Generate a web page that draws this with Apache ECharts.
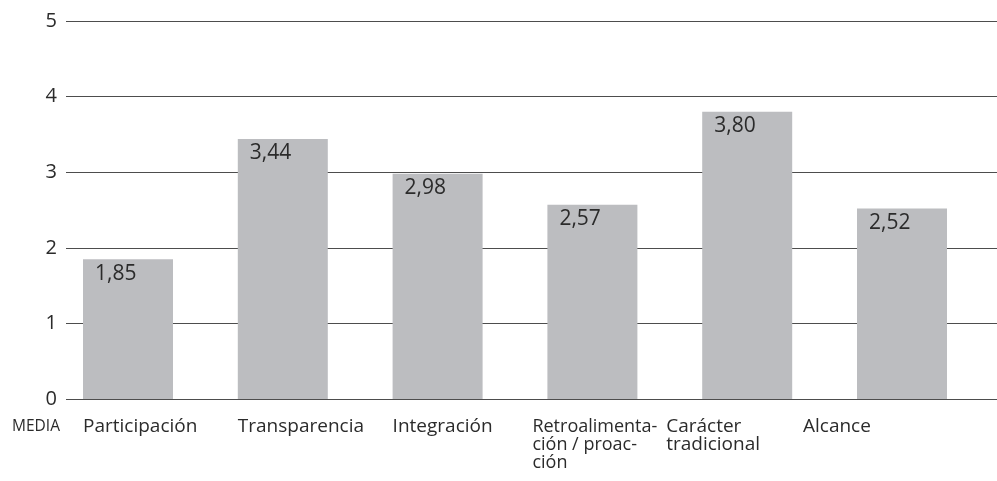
<!DOCTYPE html>
<html>
<head>
<meta charset="utf-8">
<style>
  html, body { margin: 0; padding: 0; background: #fff; }
  #main { width: 997px; height: 481px; }
</style>
<script src="https://cdn.jsdelivr.net/npm/echarts@6/dist/echarts.min.js"></script>
</head>
<body>
<div id="main"></div>
<script>
// datos del gráfico
var categories = ['Participación', 'Transparencia', 'Integración',
  'Retroalimenta-\nción / proac-\nción', 'Carácter\ntradicional', 'Alcance'];
var media = [1.85, 3.44, 2.98, 2.57, 3.80, 2.52];
var yTicks = [0, 1, 2, 3, 4, 5];

// desplazamiento de cada etiqueta respecto al centro de la barra
var labelShift = [-45, -45, -45, -60, -81, -99];
var labelSize = [19, 19, 19, 18, 19, 19];

var textColor = '#2b2b2b';
var font = 'Open Sans';

var myChart = echarts.init(document.getElementById('main'));

myChart.setOption({
  animation: false,
  textStyle: { fontFamily: font },
  grid: [
    { left: 50.6, right: 17.6, top: 21, bottom: 82 },
    { left: 66, right: 0, top: 21, bottom: 82 }
  ],
  xAxis: [
    {
      type: 'category',
      gridIndex: 0,
      data: categories.map(function (c, i) {
        return {
          value: c,
          textStyle: {
            align: 'left',
            verticalAlign: 'top',
            fontSize: labelSize[i],
            padding: [0, 0, 0, labelShift[i]]
          }
        };
      }),
      axisLine: { show: false },
      axisTick: { show: false },
      axisLabel: {
        interval: 0,
        margin: 19,
        fontSize: 19,
        lineHeight: 18,
        color: textColor,
        fontFamily: font
      }
    },
    { type: 'value', gridIndex: 1, show: false, min: 0, max: 1 }
  ],
  yAxis: [
    { type: 'value', gridIndex: 0, min: 0, max: 5, interval: 1, show: false },
    {
      type: 'value',
      gridIndex: 1,
      min: yTicks[0],
      max: yTicks[yTicks.length - 1],
      interval: 1,
      axisLine: { show: false },
      axisTick: { show: false },
      axisLabel: { margin: 9, fontSize: 20, color: textColor, fontFamily: font },
      splitLine: { show: true, lineStyle: { color: '#4d4d4d', width: 1.2 } }
    }
  ],
  graphic: [{
    type: 'text',
    left: 12,
    top: 419,
    style: { text: 'MEDIA', fontSize: 15.5, fill: textColor, fontFamily: font }
  }],
  series: [{
    type: 'bar',
    xAxisIndex: 0,
    yAxisIndex: 0,
    data: media,
    barWidth: 90,
    itemStyle: { color: '#bcbdc0' },
    label: {
      show: true,
      position: [12, 4],
      fontSize: 21,
      color: textColor,
      fontFamily: font,
      formatter: function (p) { return p.value.toFixed(2).replace('.', ','); }
    }
  }]
});
</script>
</body>
</html>
